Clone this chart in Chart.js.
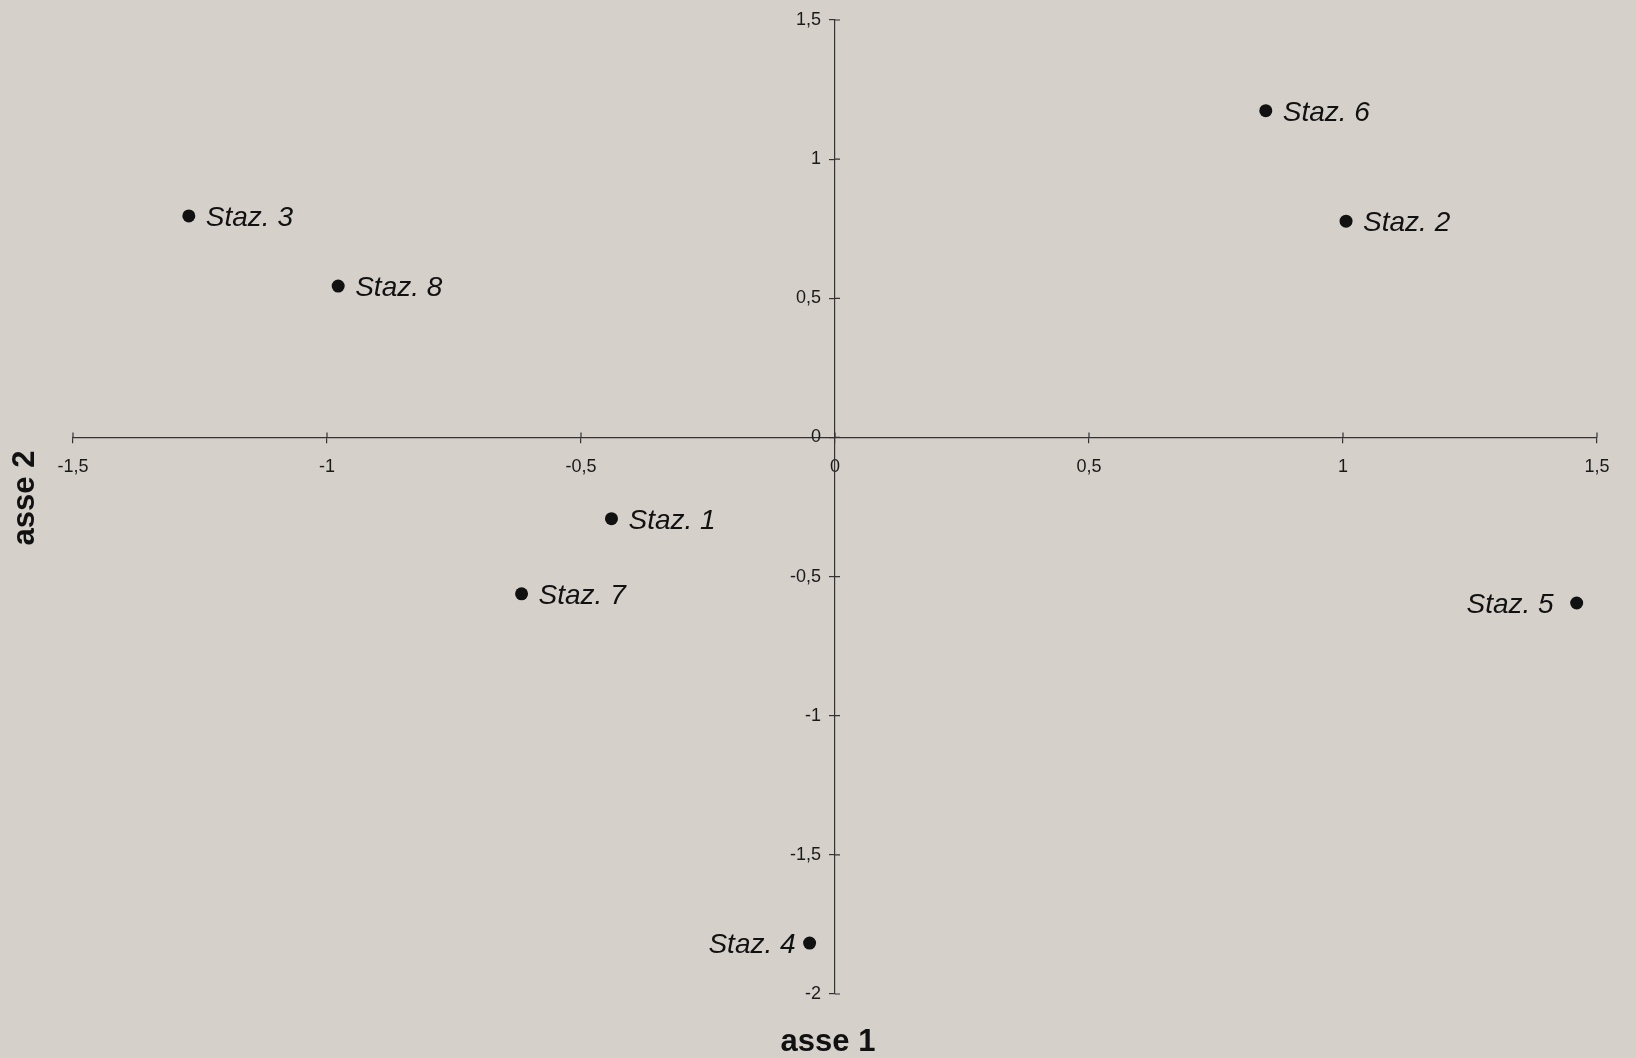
<!DOCTYPE html>
<html>
<head>
<meta charset="utf-8">
<script src="https://cdn.jsdelivr.net/npm/chart.js@4.4.1/dist/chart.umd.min.js"></script>
<style>
  html, body { margin:0; padding:0; background:#d5d0ca; }
  #wrap { width:1636px; height:1058px; }
</style>
</head>
<body>
<div id="wrap"><canvas id="ch_pca" width="1636" height="1058"></canvas></div>
<script>
// stazioni e coordinate sugli assi 1 e 2
const stazioni = ['Staz. 1','Staz. 2','Staz. 3','Staz. 4','Staz. 5','Staz. 6','Staz. 7','Staz. 8'];
const asse1    = [-0.44, 1.006, -1.272, -0.05, 1.46, 0.848, -0.617, -0.978];
const asse2    = [-0.292, 0.777, 0.796, -1.817, -0.595, 1.174, -0.562, 0.544];

const xTicks = [-1.5, -1, -0.5, 0, 0.5, 1, 1.5];
const yTicks = [-2, -1.5, -1, -0.5, 0, 0.5, 1, 1.5];

const FONT = '"Liberation Sans", Arial, sans-serif';
const INK = '#1a1a1a';
// etichette a sinistra del punto (distanza in px dal centro)
const labelsLeft = { 'Staz. 4':14, 'Staz. 5':23 };

const fmt = (v) => String(Math.round(v*10)/10).replace('.', ',');

// trattino di tick dall'altra parte dell'asse (croce) + etichette asse 2
// (con position:{x:0} Chart.js attacca le etichette all'asse senza padding)
const crossTicks = {
  id:'crossTicks',
  afterDraw(chart){
    const { ctx, scales:{x, y} } = chart;
    const x0 = x.getPixelForValue(0), y0 = y.getPixelForValue(0);
    ctx.save();
    ctx.strokeStyle = '#333'; ctx.lineWidth = 1.2;
    ctx.beginPath();
    xTicks.forEach(v => { const px = x.getPixelForValue(v); ctx.moveTo(px, y0 - 5); ctx.lineTo(px, y0); });
    yTicks.forEach(v => { const py = y.getPixelForValue(v); ctx.moveTo(x0, py); ctx.lineTo(x0 + 5, py); });
    ctx.stroke();
    ctx.font = '18px ' + FONT;
    ctx.fillStyle = INK;
    ctx.textAlign = 'right';
    ctx.textBaseline = 'middle';
    yTicks.forEach(v => ctx.fillText(fmt(v), x0 - 14, y.getPixelForValue(v)));
    ctx.restore();
  }
};

// nomi delle stazioni accanto ai punti
const pointNames = {
  id:'pointNames',
  afterDatasetsDraw(chart){
    const { ctx } = chart;
    const meta = chart.getDatasetMeta(0);
    ctx.save();
    ctx.font = 'italic 28px ' + FONT;
    ctx.fillStyle = '#111';
    ctx.textBaseline = 'alphabetic';
    meta.data.forEach((pt, i) => {
      const name = stazioni[i];
      if (name in labelsLeft){ ctx.textAlign = 'right'; ctx.fillText(name, pt.x - labelsLeft[name], pt.y + 10); }
      else { ctx.textAlign = 'left'; ctx.fillText(name, pt.x + 17, pt.y + 10); }
    });
    ctx.restore();
  }
};

// titoli degli assi
const axisTitles = {
  id:'axisTitles',
  afterDraw(chart){
    const { ctx } = chart;
    ctx.save();
    ctx.font = 'bold 31px ' + FONT;
    ctx.fillStyle = '#111';
    ctx.textAlign = 'center';
    ctx.textBaseline = 'middle';
    ctx.fillText('asse 1', chart.scales.x.getPixelForValue(0) - 7, 1042);
    ctx.translate(25, 498);
    ctx.rotate(-Math.PI/2);
    ctx.fillText('asse 2', 0, 0);
    ctx.restore();
  }
};

const axisCommon = (extra) => Object.assign({
  type:'linear',
  grid:{ drawOnChartArea:false, drawTicks:true, tickLength:5, color:'#333', lineWidth:1.2 },
  border:{ display:true, color:'#333', width:1.2 },
}, extra);

new Chart(document.getElementById('ch_pca'), {
  type:'scatter',
  data:{
    datasets:[{
      label:'stazioni',
      data: stazioni.map((s, i) => ({ x: asse1[i], y: asse2[i] })),
      pointRadius:6.5, pointHoverRadius:6.5,
      backgroundColor:'#111', borderColor:'#111', borderWidth:0
    }]
  },
  options:{
    responsive:false, animation:false,
    layout:{ padding:{ left:73, right:39, top:20, bottom:64 } },
    plugins:{ legend:{ display:false }, tooltip:{ enabled:false } },
    scales:{
      x: axisCommon({
        min:-1.5, max:1.5, position:{ y:0 },
        afterBuildTicks:(s) => { s.ticks = xTicks.map(v => ({ value:v })); },
        ticks:{ padding:14, color:INK, font:{ family:FONT, size:18 }, callback:(v) => fmt(v), maxRotation:0, autoSkip:false }
      }),
      y: axisCommon({
        min:-2, max:1.5, position:{ x:0 },
        afterBuildTicks:(s) => { s.ticks = yTicks.map(v => ({ value:v })); },
        ticks:{ display:false }
      })
    }
  },
  plugins:[crossTicks, pointNames, axisTitles]
});
</script>
</body>
</html>
